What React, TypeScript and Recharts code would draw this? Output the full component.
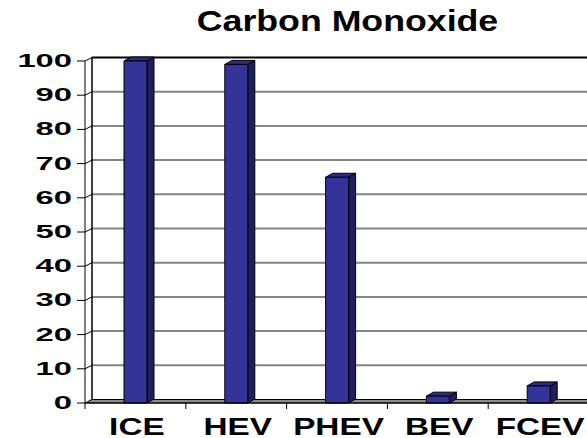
import React from 'react';
import { BarChart, Bar, XAxis, YAxis, CartesianGrid } from 'recharts';

const categories = ['ICE', 'HEV', 'PHEV', 'BEV', 'FCEV'];
const coValues = [100, 99, 66, 2, 5];
const yTicks = [0, 10, 20, 30, 40, 50, 60, 70, 80, 90, 100];

const data = categories.map((name, i) => ({ name, value: coValues[i] }));

const FONT = '"Liberation Sans", Arial, Helvetica, sans-serif';
// depth of the 3D walls and of the bars
const WALL_DX = 7;
const WALL_DY = 3.5;
const BAR_DX = 7;
const BAR_DY = 4;

const Bar3D = (props: any) => {
  const { x, y, width, height } = props;
  if (width == null || height == null) return null;
  const r = x + width;
  const b = y + height;
  return (
    <g stroke="#000" strokeWidth={1} strokeLinejoin="round">
      <polygon
        points={`${r},${y} ${r + BAR_DX},${y - BAR_DY} ${r + BAR_DX},${b - BAR_DY} ${r},${b}`}
        fill="#1f1f5e"
      />
      <polygon
        points={`${x},${y} ${x + BAR_DX},${y - BAR_DY} ${r + BAR_DX},${y - BAR_DY} ${r},${y}`}
        fill="#2c2c85"
      />
      <rect x={x} y={y} width={width} height={height} fill="#333399" />
    </g>
  );
};

const wallLine = (p: any) => {
  const { x1, x2, y1 } = p;
  const top = p.y != null && Math.abs(y1 - p.y) < 1;
  const bottom = p.y != null && p.height != null && Math.abs(y1 - (p.y + p.height)) < 1;
  const by = y1 - WALL_DY;
  if (bottom) {
    return (
      <g key={p.key}>
        <polygon
          points={`${x1},${y1} ${x1 + WALL_DX},${by} ${x2 + WALL_DX},${by} ${x2},${y1}`}
          fill="#8c8c8c"
          stroke="#000"
          strokeWidth={1}
        />
      </g>
    );
  }
  return (
    <g key={p.key}>
      <line x1={x1} y1={y1} x2={x1 + WALL_DX} y2={by} stroke="#000" strokeWidth={1} />
      <line
        x1={x1 + WALL_DX}
        y1={by}
        x2={x2 + WALL_DX}
        y2={by}
        stroke={top ? '#000' : '#858585'}
        strokeWidth={2}
      />
      {top && p.height != null && (
        <line
          x1={x1 + WALL_DX}
          y1={by}
          x2={x1 + WALL_DX}
          y2={p.y + p.height - WALL_DY}
          stroke="#000"
          strokeWidth={1.5}
        />
      )}
    </g>
  );
};

const YTick = (props: any) => {
  const { x, y, payload } = props;
  return (
    <g transform={`translate(${x},${y})`}>
      <text
        x={0}
        y={0}
        dy={6}
        textAnchor="end"
        transform="scale(1.77,1)"
        fontFamily={FONT}
        fontWeight="bold"
        fontSize={18.5}
        fill="#000"
      >
        {payload.value}
      </text>
    </g>
  );
};

const XTick = (props: any) => {
  const { x, y, payload, index } = props;
  const half = payload.offset != null ? payload.offset : 50;
  const axisY = y - 8;
  return (
    <g>
      <line x1={x + half} y1={axisY} x2={x + half} y2={axisY + 6} stroke="#000" />
      {index === 0 && (
        <line x1={x - half} y1={axisY} x2={x - half} y2={axisY + 6} stroke="#000" />
      )}
      <g transform={`translate(${x + 1.5},${y + 24})`}>
        <text
          x={0}
          y={0}
          textAnchor="middle"
          transform="scale(1.45,1)"
          fontFamily={FONT}
          fontWeight="bold"
          fontSize={23}
          fill="#000"
        >
          {payload.value}
        </text>
      </g>
    </g>
  );
};

const App: React.FC = () => {
  return (
    <div
      style={{
        position: 'fixed',
        left: 0,
        top: 0,
        width: 587,
        height: 438,
        overflow: 'hidden',
        background: '#fff',
      }}
    >
      <div
        style={{
          position: 'absolute',
          left: 0,
          width: 695,
          top: 6,
          textAlign: 'center',
          fontFamily: FONT,
          fontWeight: 'bold',
          fontSize: 30,
          lineHeight: '30px',
          transform: 'scale(1.19,1)',
          transformOrigin: '347.5px 0',
          whiteSpace: 'nowrap',
        }}
      >
        Carbon Monoxide
      </div>
      <div style={{ position: 'absolute', left: 0, top: 0 }}>
        <BarChart
          width={600}
          height={438}
          data={data}
          margin={{ top: 61, right: 11, left: 0, bottom: 0 }}
          barSize={23}
        >
          <CartesianGrid horizontal={wallLine} vertical={false} />
          <XAxis
            dataKey="name"
            height={35}
            tickSize={6}
            tickMargin={2}
            tickLine={false}
            axisLine={{ stroke: '#000', strokeWidth: 1 }}
            tick={<XTick />}
            interval={0}
          />
          <YAxis
            width={85}
            domain={[0, 100]}
            ticks={yTicks}
            interval={0}
            tickSize={8}
            tickMargin={5}
            tickLine={{ stroke: '#000' }}
            axisLine={{ stroke: '#000', strokeWidth: 1 }}
            tick={<YTick />}
          />
          <Bar dataKey="value" shape={Bar3D} isAnimationActive={false} />
        </BarChart>
      </div>
    </div>
  );
};

export default App;
